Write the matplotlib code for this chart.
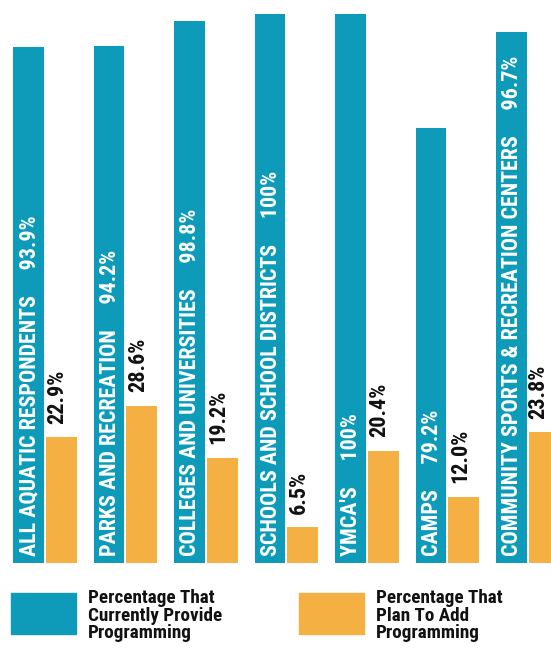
import numpy as np
import matplotlib
matplotlib.use("Agg")
import matplotlib.pyplot as plt
from matplotlib.patches import Rectangle

# survey data
categories = [
    "ALL AQUATIC RESPONDENTS",
    "PARKS AND RECREATION",
    "COLLEGES AND UNIVERSITIES",
    "SCHOOLS AND SCHOOL DISTRICTS",
    "YMCA'S",
    "CAMPS",
    "COMMUNITY SPORTS & RECREATION CENTERS",
]
current = [93.9, 94.2, 98.8, 100, 100, 79.2, 96.7]
plan_to_add = [22.9, 28.6, 19.2, 6.5, 20.4, 12.0, 23.8]
current_labels = ["93.9%", "94.2%", "98.8%", "100%", "100%", "79.2%", "96.7%"]
plan_labels = ["22.9%", "28.6%", "19.2%", "6.5%", "20.4%", "12.0%", "23.8%"]
legend_labels = [
    "Percentage That\nCurrently Provide\nProgramming",
    "Percentage That\nPlan To Add\nProgramming",
]

TEAL = "#0e9bb9"
ORANGE = "#f5b043"
FONT = ["Roboto Condensed", "DejaVu Sans"]

W, H = 551, 655
fig = plt.figure(figsize=(W / 100, H / 100), dpi=100)
ax = fig.add_axes([0, 92 / H, 1, 563 / H])

x = np.arange(len(categories))
bw = 0.385
off = 0.404
ax.bar(x, current, width=bw, color=TEAL, align="center")
ax.bar(x + off, plan_to_add, width=bw, color=ORANGE, align="center")

ax.set_xlim(-28.5 / 80.5, (W - 28.5) / 80.5)
ax.set_ylim(0, 100 * 563 / 549)
ax.axis("off")

for i in range(len(categories)):
    ax.text(x[i] + 0.01, 1.2, categories[i] + "     " + current_labels[i],
            rotation=90, ha="center", va="bottom", color="white",
            fontsize=15.8, fontweight="bold", family=FONT)
    # last label sits against the right edge, nudge it in a bit more
    shift = 0.07 if i == len(categories) - 1 else 0.045
    ax.text(x[i] + off - shift, plan_to_add[i] + 2.5, plan_labels[i],
            rotation=90, ha="center", va="bottom", color="#111111",
            fontsize=16, fontweight="bold", family=FONT)

# legend drawn in figure pixels
for (rx, tx), col, lab in zip([(11, 88), (299, 376)], [TEAL, ORANGE], legend_labels):
    fig.patches.append(Rectangle((rx / W, (H - 634) / H), 65 / W, 41 / H,
                                 transform=fig.transFigure, color=col))
    fig.text(tx / W, (H - 589) / H, lab, ha="left", va="top", color="#111111",
             fontsize=13.8, fontweight="bold", family=FONT, linespacing=0.98)

fig.savefig("out.png", dpi=100, facecolor="white")
